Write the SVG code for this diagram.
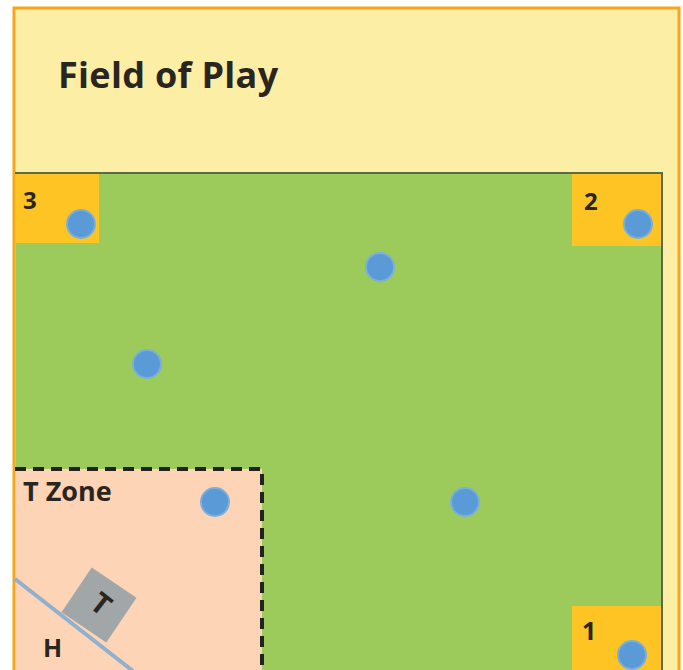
<svg xmlns="http://www.w3.org/2000/svg" width="683" height="670" viewBox="0 0 683 670">
<style>
.lbl{font-family:"Open Sans","Liberation Sans",sans-serif;font-weight:bold;fill:#2b2520}
.corner{fill:#fdc424}
.ball{fill:#5a9ad6;stroke:#78afdc;stroke-width:2}
</style>
<rect x="0" y="0" width="683" height="670" fill="#ffffff"/>
<rect x="14" y="8" width="665" height="670" fill="#fdeea6" stroke="#f8a51a" stroke-width="3"/>
<text class="lbl" x="58" y="88" font-size="36" letter-spacing="0.3">Field of Play</text>
<g id="field">
<rect x="15.5" y="173" width="646.5" height="497" fill="#9ccb5b"/>
<path d="M15,173 H662 V670" fill="none" stroke="#5d6b45" stroke-width="2"/>
</g>
<g id="corner3">
<rect class="corner" x="15.5" y="174" width="83.5" height="69"/>
<text class="lbl" x="23" y="209" font-size="24">3</text>
<circle class="ball" cx="81" cy="224" r="14"/>
</g>
<g id="corner2">
<rect class="corner" x="572" y="174" width="89" height="72"/>
<text class="lbl" x="584" y="210" font-size="24">2</text>
<circle class="ball" cx="638" cy="224" r="14"/>
</g>
<g id="corner1">
<rect class="corner" x="572" y="606" width="89" height="64"/>
<text class="lbl" x="582" y="640" font-size="25">1</text>
<circle class="ball" cx="632" cy="655" r="14"/>
</g>
<g id="tzone">
<rect x="15.5" y="469" width="246.5" height="201" fill="#fdd4b6"/>
<path d="M15,469 H262 V670" fill="none" stroke="#222" stroke-width="4" stroke-dasharray="11,7"/>
<text class="lbl" x="23" y="501" font-size="27">T Zone</text>
</g>
<g id="connectors">
<line x1="15" y1="579" x2="133" y2="671" stroke="#8fb0cf" stroke-width="4"/>
</g>
<g id="T">
<rect x="-27" y="-27" width="54" height="54" fill="#a1a6a8" transform="translate(99,605) rotate(34)"/>
<text class="lbl" x="0" y="10" font-size="29" text-anchor="middle" transform="translate(101,604) rotate(38)">T</text>
</g>
<g id="H">
<text class="lbl" x="43" y="657" font-size="25">H</text>
</g>
<g id="balls">
<circle class="ball" cx="380" cy="267" r="14"/>
<circle class="ball" cx="147" cy="364" r="14"/>
<circle class="ball" cx="215" cy="502" r="14"/>
<circle class="ball" cx="465" cy="502" r="14"/>
</g>
</svg>
